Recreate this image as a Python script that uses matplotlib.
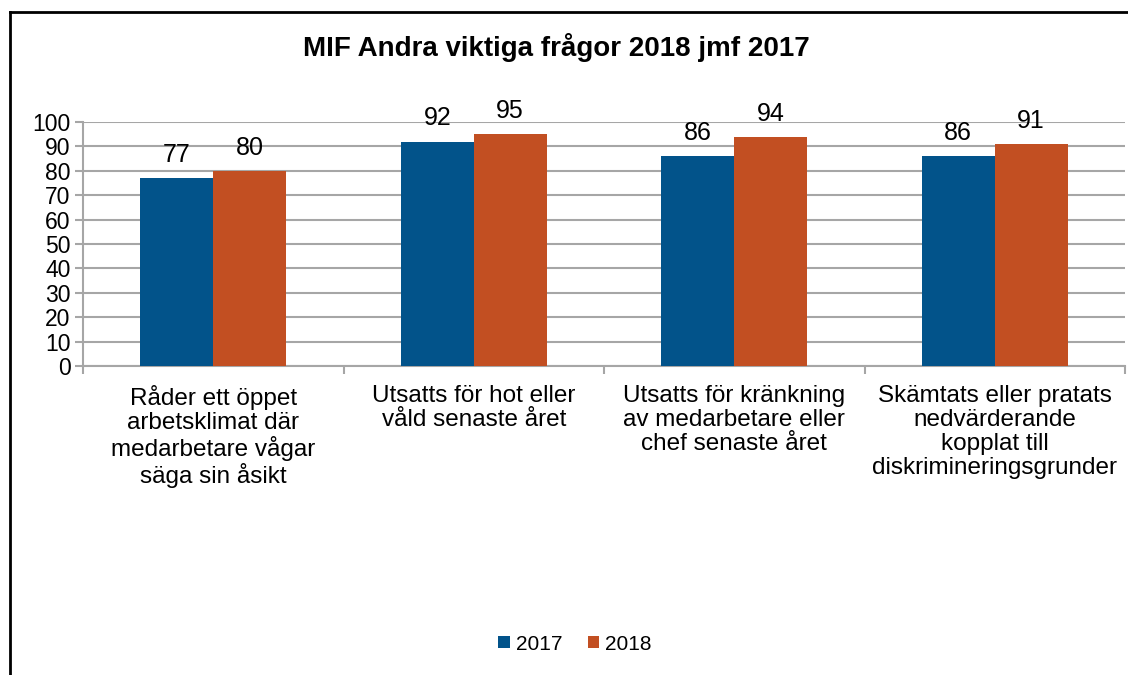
import matplotlib.pyplot as plt
import numpy as np
from matplotlib.lines import Line2D

# survey questions and results per year
categories = [
    "Råder ett öppet\narbetsklimat där\nmedarbetare vågar\nsäga sin åsikt",
    "Utsatts för hot eller\nvåld senaste året",
    "Utsatts för kränkning\nav medarbetare eller\nchef senaste året",
    "Skämtats eller pratats\nnedvärderande\nkopplat till\ndiskrimineringsgrunder",
]
years = ["2017", "2018"]
values_2017 = [77, 92, 86, 86]
values_2018 = [80, 95, 94, 91]
y_ticks = list(range(0, 101, 10))

blue = "#02538A"
orange = "#C24F22"
grid_col = "#A6A6A6"

plt.rcParams['font.family'] = ['Liberation Sans', 'DejaVu Sans']

fig = plt.figure(figsize=(11.28, 6.75), dpi=100)
ax = fig.add_axes([83 / 1128, 1 - 366 / 675, (1125 - 83) / 1128, (366 - 122) / 675])

x = np.arange(len(categories))
w = 0.28
b1 = ax.bar(x - w / 2, values_2017, w, color=blue, label=years[0], zorder=3)
b2 = ax.bar(x + w / 2, values_2018, w, color=orange, label=years[1], zorder=3)

# value labels above each bar
for bars in (b1, b2):
    for rect in bars:
        h = rect.get_height()
        ax.annotate(str(int(h)), xy=(rect.get_x() + rect.get_width() / 2, h),
                    xytext=(0, 8), textcoords="offset points",
                    ha="center", va="bottom", fontsize=18, zorder=4)

ax.set_xlim(-0.5, len(categories) - 0.5)
ax.set_ylim(0, 100)
ax.set_yticks(y_ticks)
ax.set_yticklabels([str(t) for t in y_ticks], fontsize=16.5)
ax.yaxis.grid(True, color=grid_col, linewidth=1.5, zorder=0)
ax.set_axisbelow(True)

ax.set_xticks(x)
ax.set_xticklabels(categories, fontsize=17.5, linespacing=1.1)
ax.set_xticks(np.arange(-0.5, len(categories), 1), minor=True)
ax.tick_params(axis="x", which="major", length=0, pad=14)
ax.tick_params(axis="x", which="minor", length=6, width=1.5, color=grid_col)
ax.tick_params(axis="y", length=6, width=1.5, color=grid_col, pad=3)

for side in ("top", "right"):
    ax.spines[side].set_visible(False)
for side in ("left", "bottom"):
    ax.spines[side].set_color(grid_col)
    ax.spines[side].set_linewidth(1.5)

fig.text(556 / 1128, 1 - 47 / 675, "MIF Andra viktiga frågor 2018 jmf 2017",
         ha="center", va="center", fontsize=20, fontweight="bold")

fig.legend(loc="center", bbox_to_anchor=(575 / 1128, 1 - 644 / 675), ncol=2,
           frameon=False, fontsize=15, handlelength=0.55, handleheight=0.55,
           handletextpad=0.3, columnspacing=1.2)

# outer chart border
fig.add_artist(Line2D([10 / 1128, 10 / 1128], [0, 1 - 12 / 675],
                      transform=fig.transFigure, color="black", linewidth=2))
fig.add_artist(Line2D([10 / 1128, 1], [1 - 12 / 675, 1 - 12 / 675],
                      transform=fig.transFigure, color="black", linewidth=2))

fig.savefig("out.png", dpi=100)
